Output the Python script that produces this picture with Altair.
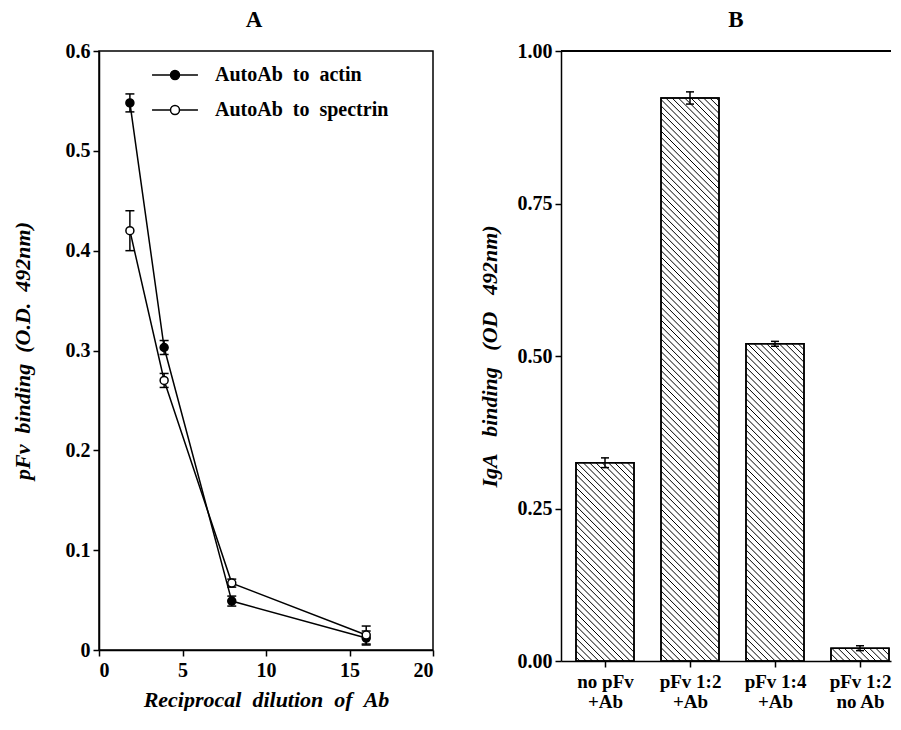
import altair as alt
import pandas as pd
import numpy as np

# ---------------- Panel A data ----------------
dilution = [1.85, 3.9, 7.95, 16.0]
actin = [0.548, 0.303, 0.049, 0.012]
actin_err = [0.009, 0.007, 0.005, 0.007]
spectrin = [0.420, 0.270, 0.067, 0.015]
spectrin_err = [0.020, 0.007, 0.004, 0.009]
series_names = ["AutoAb to actin", "AutoAb to spectrin"]

# ---------------- Panel B data ----------------
conditions = [["no pFv", "+Ab"], ["pFv 1:2", "+Ab"], ["pFv 1:4", "+Ab"], ["pFv 1:2", "no Ab"]]
iga = [0.325, 0.923, 0.520, 0.021]
iga_err = [0.008, 0.010, 0.004, 0.004]

FONT = "Liberation Serif"
NB2 = "\u00a0\u00a0"


def wide(s, gap=NB2):
    return gap.join(s.split(" "))


# ---------------- Panel A ----------------
dfA = pd.DataFrame({
    "x": dilution + dilution,
    "y": actin + spectrin,
    "err": actin_err + spectrin_err,
    "series": [series_names[0]] * 4 + [series_names[1]] * 4,
})
dfA["lo"] = dfA["y"] - dfA["err"]
dfA["hi"] = dfA["y"] + dfA["err"]

WA, HA = 334, 599
xA = alt.X("x:Q", scale=alt.Scale(domain=[0, 20], nice=False),
           axis=alt.Axis(values=[0, 5, 10, 15, 20], title=wide("Reciprocal dilution of Ab"),
                         labelPadding=4, titlePadding=9))
yA = alt.Y("y:Q", scale=alt.Scale(domain=[0, 0.6], nice=False),
           axis=alt.Axis(values=[0, 0.1, 0.2, 0.3, 0.4, 0.5, 0.6], format="~g",
                         title=wide("pFv binding (O.D. 492nm)"), labelPadding=3, titlePadding=31))

legend_path = ("M-1.53,0L-0.3,0M0.3,0L1.53,0"
               "M-0.3,0A0.3,0.3,0,1,1,0.3,0A0.3,0.3,0,1,1,-0.3,0Z")

baseA = alt.Chart(dfA)
linesA = baseA.mark_line(color="black", strokeWidth=1.5).encode(x=xA, y=yA, detail="series:N")
errA = baseA.mark_rule(color="black", strokeWidth=1.5).encode(x="x:Q", y="lo:Q", y2="hi:Q")
capHiA = baseA.mark_tick(color="black", orient="horizontal", size=9, thickness=1.5, opacity=1).encode(x="x:Q", y="hi:Q")
capLoA = baseA.mark_tick(color="black", orient="horizontal", size=9, thickness=1.5, opacity=1).encode(x="x:Q", y="lo:Q")
ptsA = baseA.mark_point(shape="circle", size=64, filled=True, stroke="black", strokeWidth=1.5, opacity=1).encode(
    x="x:Q", y="y:Q",
    fill=alt.Fill("series:N", scale=alt.Scale(domain=series_names, range=["black", "white"]),
                  legend=alt.Legend(title=None, orient="none", legendX=60, legendY=8,
                                    symbolType=legend_path, symbolSize=900,
                                    symbolStrokeColor="black", symbolStrokeWidth=1.5,
                                    labelExpr="replace(datum.label, / /g, '\u00a0\u00a0')",
                                    labelLimit=400,
                                    labelFont=FONT, labelFontSize=20, labelFontWeight="bold",
                                    labelColor="black", labelOffset=24, rowPadding=9, padding=0)),
)
panelA = alt.layer(linesA, errA, capHiA, capLoA, ptsA).properties(
    width=WA, height=HA,
    title=alt.TitleParams("A", anchor="middle", dx=-12, offset=9),
    view=alt.ViewBackground(stroke="black", strokeWidth=1.5),
)

# ---------------- Panel B ----------------
WB, HB = 330, 610
Y_TOP_B = 1.0
step_px = 85.0
x_min = 1 - 44 / step_px
x_max = x_min + WB / step_px
hw = 29 / step_px

positions = list(range(1, len(iga) + 1))
dfB = pd.DataFrame({"pos": positions, "v": iga, "err": iga_err})
dfB["left"] = dfB["pos"] - hw
dfB["right"] = dfB["pos"] + hw
dfB["zero"] = 0.0
dfB["lo"] = dfB["v"] - dfB["err"]
dfB["hi"] = dfB["v"] + dfB["err"]

# hatch segments (45 degree "\" lines) inside each bar, in data units
sx = WB / (x_max - x_min)
sy = HB / Y_TOP_B
hatch_step = 6.3
segs = []
for p, v in zip(positions, iga):
    u0 = (p - hw - x_min) * sx
    u1 = (p + hw - x_min) * sx
    v0, v1 = 0.0, v * sy
    c = np.ceil((u0 + v0) / hatch_step) * hatch_step
    while c < u1 + v1:
        us = max(u0, c - v1)
        ue = min(u1, c - v0)
        if ue - us > 0.3:
            segs.append({"hx": us / sx + x_min, "hy": (c - us) / sy,
                         "hx2": ue / sx + x_min, "hy2": (c - ue) / sy})
        c += hatch_step
dfH = pd.DataFrame(segs)

label_expr = " : ".join(
    f"datum.value == {p} ? ['{a}', '{b}']" for p, (a, b) in zip(positions, conditions)
) + " : ''"

xB = alt.X("left:Q", scale=alt.Scale(domain=[x_min, x_max], nice=False, zero=False),
           axis=alt.Axis(values=positions, labelExpr=label_expr, title=None,
                         labelPadding=5, labelLineHeight=20, labelFontSize=19))
yB = alt.Y("v:Q", scale=alt.Scale(domain=[0, Y_TOP_B], nice=False),
           axis=alt.Axis(values=[0, 0.25, 0.5, 0.75, 1.0], format=".2f",
                         title=wide("IgA binding (OD 492nm)", "\u00a0\u00a0\u00a0"),
                         labelPadding=3, titlePadding=16))

baseB = alt.Chart(dfB)
barsB = baseB.mark_rect(fill="white", stroke="black", strokeWidth=1.5).encode(
    x=xB, x2="right:Q", y=yB, y2="zero:Q")
hatchB = alt.Chart(dfH).mark_rule(color="black", strokeWidth=1).encode(
    x="hx:Q", y="hy:Q", x2="hx2:Q", y2="hy2:Q")
outlineB = baseB.mark_rect(fill=None, stroke="black", strokeWidth=1.5).encode(
    x="left:Q", x2="right:Q", y="v:Q", y2="zero:Q")
errB = baseB.mark_rule(color="black", strokeWidth=1.5).encode(x="pos:Q", y="lo:Q", y2="hi:Q")
capHiB = baseB.mark_tick(color="black", orient="horizontal", size=8, thickness=1.5, opacity=1).encode(x="pos:Q", y="hi:Q")
capLoB = baseB.mark_tick(color="black", orient="horizontal", size=8, thickness=1.5, opacity=1).encode(x="pos:Q", y="lo:Q")
topB = alt.Chart(dfB).mark_rule(color="black", strokeWidth=1.5).encode(y=alt.datum(Y_TOP_B))

panelB = alt.layer(barsB, hatchB, outlineB, errB, capHiB, capLoB, topB).properties(
    width=WB, height=HB,
    title=alt.TitleParams("B", anchor="middle", dx=10, offset=9),
    view=alt.ViewBackground(stroke=None),
)

chart = alt.hconcat(panelA, panelB, spacing=43).configure_axis(
    domainColor="black", domainWidth=1.5, tickColor="black", tickWidth=1.5, tickSize=6,
    labelFont=FONT, labelFontSize=20, labelFontWeight="bold", labelColor="black",
    titleFont=FONT, titleFontSize=22, titleFontWeight="bold", titleFontStyle="italic",
    titleColor="black", grid=False,
).configure_title(
    font=FONT, fontSize=23, fontWeight="bold", color="black",
).properties(
    padding={"left": 2, "top": 0, "right": 0, "bottom": 0},
    background="white",
)

chart.save("out.html", embed_options={"renderer": "svg", "actions": False})
